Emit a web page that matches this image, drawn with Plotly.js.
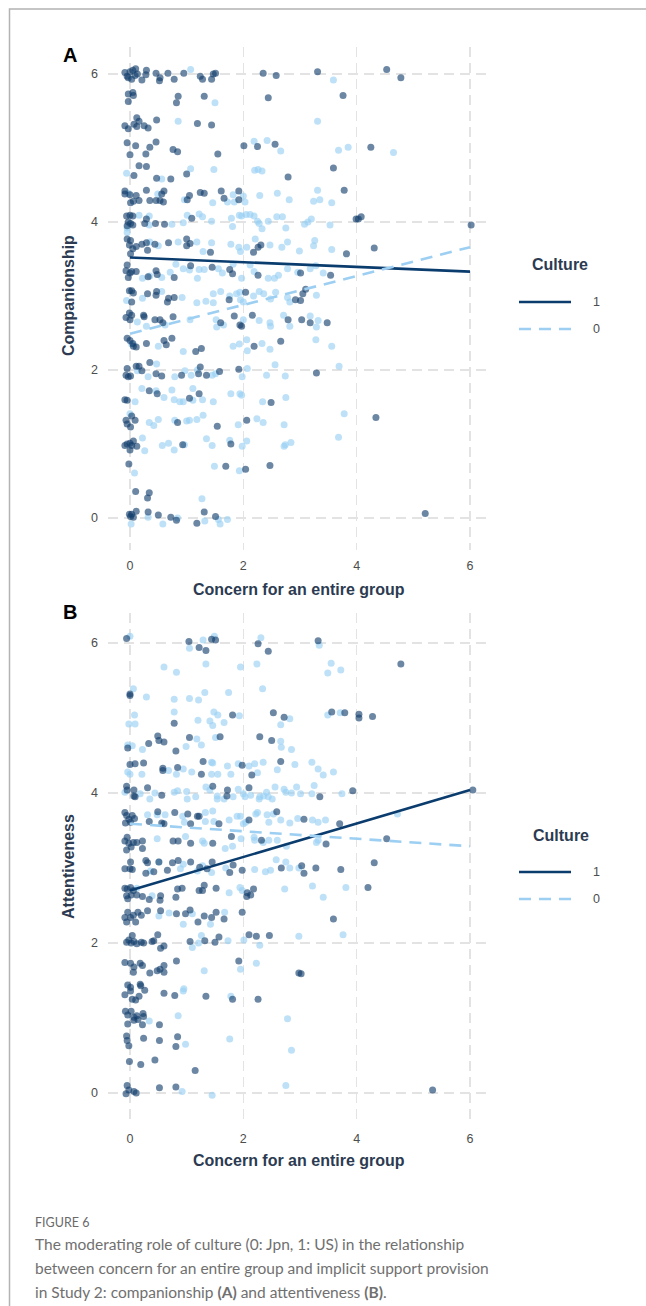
<!DOCTYPE html>
<html><head><meta charset="utf-8">
<script src="https://cdn.plot.ly/plotly-3.0.1.min.js"></script>
<style>html,body{margin:0;padding:0;background:#fff;} #chart{width:646px;height:1306px;}</style>
</head><body><div id="chart"></div>
<script>
// ---------- data ----------
const xTicks = [0, 2, 4, 6];
const yTicks = [0, 2, 4, 6];
const cultureLabels = ['1', '0'];

// Panel A: Companionship vs concern for an entire group, [x, y] (jittered as plotted)
const compUS = [
[-0.09,6.02],[-0.05,5.97],[0,6.03],[0.05,6.05],[0.09,5.98],[0.13,6.0],[0.21,5.92],[0.29,6.05],[0.28,5.99],[0.46,6.01],[0.53,5.95],[0.52,5.91],[0.67,6.01],[0.78,5.93],[0.95,6.01],[1.24,5.97],[1.28,5.93],[1.44,5.93],[1.47,6.0],[1.51,6.01],[2.35,6.01],[2.58,5.98],[3.31,6.03],[4.53,6.06],[4.78,5.95],[-0.03,5.95],[0.03,5.93],[0.1,6.07],
[-0.03,5.73],[0.05,5.75],[0.06,5.71],[-0.03,5.63],[0.85,5.7],[0.82,5.61],[1.31,5.7],[2.44,5.68],[3.76,5.71],
[-0.09,5.3],[-0.03,5.26],[0.12,5.41],[0.16,5.36],[0.07,5.32],[0.12,5.29],[0.25,5.3],[0.32,5.27],[0.47,5.38],[1.19,5.33],[1.44,5.31],
[-0.05,5.07],[0.1,5.03],[0,4.91],[0.28,4.92],[0.35,5.01],[0.46,5.08],[0.76,4.98],[0.84,4.95],[1.55,4.92],[2.01,5.03],[2.25,5.02],[2.56,5.05],[4.25,5.01],
[0.16,4.76],[0.29,4.75],[0.07,4.63],[0.47,4.59],[0.72,4.58],[1.0,4.65],[2.79,4.61],[3.59,4.73],
[-0.09,4.42],[-0.09,4.38],[0,4.37],[0.11,4.36],[0.16,4.29],[0.01,4.26],[0.06,4.28],[0.29,4.43],[0.35,4.29],[0.46,4.29],[0.53,4.29],[0.59,4.27],[0.6,4.42],[0.56,4.38],[1.01,4.3],[1.05,4.36],[1.24,4.4],[1.31,4.39],[1.61,4.42],[1.66,4.32],[1.92,4.42],[1.92,4.3],[3.78,4.43],
[-0.06,4.08],[0,4.09],[0.05,4.08],[-0.03,4.0],[0.01,3.98],[0.05,3.96],[-0.05,3.95],[0.29,4.04],[0.26,3.98],[0.45,3.98],[0.61,3.97],[1.09,4.05],[3.99,4.04],[4.03,4.04],[4.08,4.07],[6.02,3.96],
[-0.05,3.77],[0.01,3.75],[-0.01,3.69],[0.05,3.64],[0.01,3.57],[0.11,3.67],[0.21,3.7],[0.29,3.72],[0.31,3.62],[0.44,3.7],[0.68,3.72],[1.0,3.77],[1.0,3.68],[1.06,3.71],[1.42,3.59],[2.18,3.59],[2.26,3.66],[2.31,3.69],[3.82,3.57],[4.31,3.65],
[-0.05,3.42],[-0.07,3.34],[0,3.31],[-0.03,3.25],[0.03,3.33],[0.11,3.33],[0.32,3.26],[0.46,3.34],[0.48,3.29],[0.78,3.25],[1.07,3.41],[1.45,3.39],[1.76,3.36],[1.81,3.3],[2.26,3.28],[3.01,3.31],[3.54,3.28],
[-0.01,3.07],[0.03,3.07],[0.06,3.04],[0.03,2.92],[0.31,3.03],[0.46,3.01],[0.47,3.06],[0.68,2.97],[0.66,2.92],[0.78,2.98],[1.75,2.95],[2.04,3.05],[2.92,2.95],[3.01,2.94],[3.05,3.03],[3.1,3.09],
[-0.07,2.71],[0,2.68],[-0.01,2.77],[0.03,2.74],[0.24,2.74],[0.25,2.72],[0.44,2.68],[0.53,2.68],[0.58,2.64],[0.76,2.72],[1.6,2.64],[1.84,2.73],[1.94,2.61],[1.97,2.59],[2.16,2.74],[2.79,2.68],[3.03,2.68],[3.18,2.64],[3.48,2.64],
[-0.05,2.43],[0,2.4],[0.05,2.36],[0.06,2.32],[0.11,2.31],[0.29,2.36],[0.6,2.4],[0.64,2.34],[0.74,2.43],[1.16,2.25],[1.26,2.29],[2.19,2.32],[2.66,2.39],
[-0.07,1.93],[-0.03,1.91],[0.01,1.92],[-0.05,2.02],[0.11,2.05],[0.16,2.05],[0.21,1.99],[0.35,2.1],[0.46,1.95],[0.56,1.92],[0.91,1.93],[1.24,2.04],[1.21,1.95],[1.35,1.93],[1.58,1.98],[1.92,2.01],[3.29,1.96],
[-0.09,1.6],[-0.05,1.59],[0.34,1.72],[0.48,1.68],[1.05,1.62],[1.22,1.68],[2.49,1.56],
[-0.07,1.32],[0.03,1.38],[0.01,1.23],[-0.05,1.27],[0.09,1.32],[0.84,1.29],[1.54,1.24],[2.06,1.32],[4.34,1.36],
[-0.09,0.98],[-0.05,1.0],[0,1.01],[0.03,0.98],[0,0.92],[0.12,0.97],[0.06,1.04],[0.93,0.99],[1.78,1.0],
[-0.02,0.73],[1.69,0.7],[2.04,0.66],[2.47,0.71],
[0.1,0.36],[0.34,0.34],[0.31,0.27],
[-0.01,0.05],[0.03,0.05],[0.06,0.01],[0.11,0.09],[0.01,0.02],[0.32,0.08],[0.5,0.04],[0.72,0.01],[0.82,-0.03],[1.18,-0.07],[1.31,0.08],[1.51,0.02],[5.21,0.06]
];
const compJP = [
[1.07,6.06],[3.59,5.92],
[1.5,5.61],
[0.85,5.36],[3.31,5.36],
[2.19,5.09],[2.42,5.1],[2.66,4.96],[3.68,4.97],[3.85,5.01],[4.65,4.94],
[-0.06,4.66],[0.56,4.58],[1.07,4.72],[1.48,4.71],[2.2,4.7],[2.26,4.71],[2.33,4.69],
[-0.03,4.39],[0.49,4.38],[0.96,4.3],[1.46,4.26],[1.72,4.27],[1.82,4.37],[1.84,4.27],[2.03,4.27],[2.0,4.35],[2.29,4.36],[2.6,4.39],[2.81,4.3],[3.24,4.28],[3.31,4.43],[3.35,4.3],[3.56,4.26],
[-0.05,3.92],[0.16,4.09],[0.34,4.08],[0.34,3.96],[0.74,3.97],[0.94,3.99],[1.01,4.09],[1.22,4.11],[1.28,4.07],[1.44,4.01],[1.79,4.05],[1.81,3.94],[1.93,4.09],[1.97,4.08],[2.05,4.1],[2.12,4.1],[2.19,4.08],[2.25,4.01],[2.28,3.98],[2.33,3.91],[2.44,4.01],[2.59,4.07],[2.69,4.07],[2.75,3.92],[3.08,3.97],[3.2,4.04],[3.14,4.0],[3.53,3.96],
[-0.05,3.86],[0.35,3.73],[0.5,3.68],[0.85,3.73],[1.18,3.73],[1.29,3.6],[1.44,3.72],[1.78,3.7],[1.92,3.66],[1.95,3.6],[2.06,3.66],[2.21,3.77],[2.47,3.69],[2.68,3.66],[2.78,3.73],[2.99,3.61],[3.24,3.68],[3.26,3.75],[3.56,3.63],
[0.22,3.24],[0.35,3.27],[0.56,3.25],[0.71,3.32],[0.81,3.43],[0.94,3.37],[1.05,3.35],[1.19,3.24],[1.22,3.36],[1.31,3.36],[1.56,3.37],[1.63,3.31],[1.82,3.43],[1.97,3.24],[2.12,3.42],[2.19,3.33],[2.44,3.24],[2.55,3.24],[2.62,3.28],[2.78,3.37],[2.96,3.32],[3.18,3.37],[3.28,3.41],[3.41,3.31],
[-0.06,2.94],[0.22,2.97],[0.56,3.06],[0.92,2.98],[1.18,2.91],[1.34,2.93],[1.47,3.03],[1.47,2.91],[1.6,3.06],[1.76,3.0],[1.88,3.03],[1.94,3.05],[1.95,2.95],[2.0,2.92],[2.18,3.0],[2.28,3.06],[2.36,3.03],[2.48,2.96],[2.57,3.05],[2.78,2.98],[2.82,2.92],[3.29,3.01],
[0.13,2.65],[0.29,2.59],[0.62,2.61],[1.06,2.68],[1.52,2.68],[1.53,2.58],[1.65,2.61],[2.0,2.68],[2.28,2.67],[2.47,2.64],[2.48,2.59],[2.71,2.74],[2.82,2.59],[3.18,2.73],[3.32,2.67],[3.29,2.58],
[0.03,2.35],[0.5,2.32],[0.94,2.25],[1.82,2.32],[1.93,2.35],[2.06,2.41],[2.07,2.26],[2.33,2.36],[2.47,2.28],[3.28,2.41],[3.56,2.32],
[0.13,1.99],[0.32,1.91],[0.47,2.08],[0.79,1.91],[0.97,1.99],[1.08,1.93],[1.19,2.0],[1.45,1.93],[1.51,1.95],[1.98,1.91],[2.07,2.02],[2.41,1.93],[2.56,2.07],[2.74,1.92],[3.69,2.05],
[0.09,1.57],[0.21,1.75],[0.46,1.72],[0.6,1.63],[0.74,1.73],[0.78,1.6],[0.88,1.57],[0.94,1.57],[1.11,1.75],[1.11,1.59],[1.28,1.6],[1.47,1.57],[1.78,1.68],[1.94,1.68],[1.97,1.66],[2.34,1.57],[2.75,1.63],
[0,1.41],[0.34,1.29],[0.5,1.33],[0.79,1.32],[1.0,1.31],[1.05,1.32],[1.18,1.33],[1.29,1.39],[1.91,1.26],[2.24,1.34],[2.35,1.29],[2.72,1.26],[3.78,1.41],[0.42,1.25],
[0.22,1.08],[0.26,0.91],[0.57,0.98],[0.68,1.01],[0.78,0.92],[0.96,0.99],[1.35,1.07],[1.45,0.98],[1.76,1.05],[1.98,0.97],[2.06,1.04],[2.72,0.97],[2.74,0.99],[2.84,1.02],[3.68,1.09],
[0.08,0.61],[1.49,0.7],[1.93,0.64],
[1.27,0.26],
[0.02,-0.08],[0.32,0.01],[0.58,-0.08],[0.84,0.0],[1.32,-0.04],[1.56,-0.02],[1.59,-0.08],[1.72,-0.02]
];

// Panel B: Attentiveness vs concern for an entire group
const attUS = [
[-0.06,6.06],[1.04,6.02],[1.22,5.94],[1.34,5.9],[1.44,6.05],[1.51,6.04],[2.26,5.99],[2.44,5.89],[3.32,6.03],
[4.78,5.72],
[0,5.32],[0,5.3],
[0.78,4.93],[1.81,5.04],[2.53,5.07],[2.72,5.01],[3.56,5.08],[3.79,5.07],[4.04,5.05],[4.04,5.0],[4.28,5.02],
[-0.04,4.6],[0.33,4.66],[0.49,4.76],[0.51,4.7],[0.6,4.68],[0.81,4.56],[1.05,4.74],[1.59,4.75],[2.29,4.75],[2.5,4.7],
[0,4.38],[0.09,4.39],[0.24,4.4],[0.58,4.33],[0.58,4.3],[0.84,4.34],[1.29,4.42],[1.26,4.25],[1.98,4.37],[2.15,4.24],[2.66,4.42],
[-0.06,4.09],[-0.05,4.04],[0.07,4.04],[0.09,3.95],[0.31,4.07],[0.56,3.97],[1.46,4.09],[1.72,4.04],[2.1,4.07],[3.35,3.95],[3.93,4.03],[6.05,4.04],[0.07,3.96],[1.71,3.96],
[-0.09,3.74],[-0.06,3.7],[-0.02,3.65],[0.01,3.61],[0.04,3.7],[0.08,3.66],[-0.08,3.6],[0.34,3.62],[0.49,3.75],[0.56,3.6],[0.6,3.59],[0.79,3.74],[1.02,3.72],[1.19,3.69],[1.22,3.69],[1.07,3.59],[1.57,3.59],[2.1,3.64],[2.59,3.75],[3.07,3.65],[3.7,3.59],
[-0.09,3.36],[-0.05,3.41],[-0.02,3.33],[0.02,3.28],[0.06,3.34],[0.12,3.34],[0.22,3.36],[0.22,3.26],[-0.06,3.24],[0.76,3.36],[0.85,3.36],[1.07,3.33],[1.46,3.33],[1.79,3.42],[2.32,3.37],[3.46,3.32],[4.53,3.39],
[0.01,3.08],[-0.09,2.99],[0,2.99],[0.04,2.98],[0.28,3.1],[0.31,3.07],[0.28,2.93],[0.42,2.95],[0.51,3.08],[0.66,2.97],[0.75,3.07],[0.85,3.1],[1.07,3.08],[1.23,3.01],[1.36,2.99],[1.45,3.08],[1.76,2.94],[1.82,3.04],[1.98,2.97],[2.67,3.0],[3.03,3.03],[3.07,2.93],[3.28,3.0],[3.72,2.98],[4.31,3.07],
[-0.09,2.73],[-0.05,2.72],[0.01,2.74],[0.06,2.7],[-0.06,2.63],[0.02,2.64],[-0.04,2.59],[0.12,2.64],[0.22,2.62],[0.34,2.58],[0.54,2.63],[0.53,2.57],[0.81,2.61],[0.84,2.72],[0.92,2.73],[1.22,2.7],[1.28,2.7],[1.31,2.77],[1.52,2.73],[2.07,2.67],[2.06,2.62],[2.13,2.64],[2.18,2.72],[4.2,2.74],
[-0.09,2.34],[-0.06,2.28],[-0.04,2.41],[0.01,2.34],[0.06,2.37],[0.1,2.28],[0.14,2.41],[0.2,2.37],[0.31,2.43],[0.54,2.43],[0.82,2.39],[0.98,2.39],[1.06,2.44],[1.2,2.28],[1.31,2.36],[1.44,2.34],[1.52,2.41],[1.66,2.32],[1.98,2.41],[3.59,2.32],
[-0.06,2.01],[-0.02,2.04],[0.04,2.1],[0.02,2.0],[0.07,2.02],[0.12,1.99],[0.2,2.01],[0.24,2.0],[0.39,2.02],[0.42,2.03],[0.49,2.11],[0.54,1.93],[0.6,1.96],[1.06,2.02],[1.32,2.03],[1.5,2.01],[1.57,2.08],[2.1,2.11],[2.23,2.09],[2.46,2.1],
[-0.09,1.74],[0.01,1.73],[0.07,1.68],[0.06,1.61],[0.18,1.73],[0.22,1.7],[0.35,1.6],[0.48,1.63],[0.53,1.65],[0.6,1.61],[0.6,1.7],[0.82,1.76],[1.92,1.76],[2.98,1.6],[3.02,1.59],
[-0.04,1.44],[0.01,1.41],[0.18,1.45],[-0.09,1.31],[0.01,1.36],[0.04,1.25],[0.1,1.24],[0.16,1.29],[0.19,1.43],[0.26,1.37],[0.6,1.33],[0.79,1.3],[1.34,1.29],[1.81,1.25],[2.26,1.25],
[-0.08,1.09],[-0.04,1.04],[0.02,1.09],[0.07,1.01],[0.12,1.03],[0.07,0.97],[0.14,0.98],[0.23,1.06],[0.24,1.02],[-0.04,0.92],[0.22,0.91],[0.52,0.91],
[-0.06,0.76],[-0.05,0.7],[-0.02,0.63],[0.24,0.73],[0.52,0.7],[0.84,0.75],[0.81,0.62],
[-0.01,0.42],[0.19,0.38],[0.44,0.44],[1.15,0.3],
[-0.05,0.1],[-0.02,0.04],[-0.07,-0.01],[0.07,0.02],[0.11,0.0],[0.52,0.07],[0.81,0.08],[5.34,0.04]
];
const attJP = [
[0,6.09],[1.05,5.93],[1.29,6.04],[1.49,6.09],[2.31,6.07],[3.34,5.97],
[0.6,5.68],[0.82,5.61],[1.34,5.72],[1.95,5.68],[2.24,5.72],[3.49,5.6],[3.55,5.73],[3.72,5.64],
[0.06,5.39],[0.29,5.28],[0.78,5.25],[1.05,5.26],[1.21,5.24],[1.32,5.34],[1.74,5.34],[2.34,5.39],
[0.08,5.04],[-0.02,4.92],[0.09,4.92],[0.78,5.08],[1.2,4.97],[1.41,4.96],[1.48,5.08],[1.55,5.04],[1.66,4.94],[1.46,4.9],[1.93,5.03],[2.82,4.99],[2.66,4.91],[3.49,5.04],[3.71,5.07],
[-0.04,4.64],[0.04,4.63],[0.22,4.58],[0.99,4.62],[1.18,4.72],[1.26,4.64],[1.51,4.74],[2.66,4.69],[2.67,4.61],[2.85,4.58],
[-0.04,4.28],[0,4.25],[0.21,4.25],[0.68,4.3],[0.82,4.25],[0.94,4.32],[1.09,4.28],[1.44,4.41],[1.46,4.4],[1.44,4.25],[1.55,4.25],[1.72,4.36],[1.78,4.25],[1.91,4.39],[2.1,4.36],[2.2,4.39],[2.25,4.27],[2.35,4.41],[2.6,4.31],[2.91,4.38],[3.21,4.41],[3.32,4.32],[3.41,4.24],[3.59,4.28],
[-0.09,4.01],[0.18,3.99],[0.35,3.92],[0.44,4.0],[0.78,4.01],[0.84,4.03],[1.0,4.02],[1.01,3.92],[1.16,3.95],[1.34,4.08],[1.41,4.04],[1.54,3.96],[1.66,3.92],[1.82,3.95],[1.91,4.05],[2.0,3.99],[2.03,3.95],[2.29,3.95],[2.41,4.01],[2.44,3.95],[2.56,4.08],[2.72,4.05],[2.75,4.01],[2.85,4.0],[2.94,4.08],[3.01,3.99],[3.21,3.99],[3.25,4.1],[3.74,3.99],[1.54,3.92],[2.13,3.97],[2.28,3.92],[2.36,3.96],[2.51,3.92],
[0.31,3.71],[0.48,3.71],[0.62,3.71],[0.93,3.69],[0.96,3.61],[1.33,3.74],[1.33,3.62],[1.46,3.76],[1.48,3.62],[1.75,3.64],[1.89,3.69],[1.95,3.69],[2.0,3.59],[2.04,3.61],[2.22,3.72],[2.25,3.74],[2.42,3.71],[2.45,3.61],[2.53,3.72],[2.66,3.64],[2.82,3.6],[2.96,3.66],[3.22,3.64],[3.32,3.61],[3.45,3.64],[4.72,3.72],
[0.48,3.39],[0.98,3.42],[1.28,3.36],[1.31,3.33],[1.68,3.26],[1.81,3.29],[1.96,3.39],[2.19,3.41],[2.2,3.37],[2.35,3.34],[2.45,3.37],[2.6,3.37],[2.76,3.29],[3.29,3.34],[3.32,3.37],
[0.36,2.96],[0.51,3.08],[0.89,2.99],[0.94,3.05],[1.19,2.96],[1.28,3.03],[1.44,2.94],[1.69,3.0],[2.2,2.98],[2.39,2.95],[2.48,2.97],[2.58,3.11],[2.75,3.08],[2.82,3.0],[2.98,3.0],
[0.12,2.73],[0.39,2.63],[1.75,2.67],[1.94,2.74],[1.98,2.7],[2.73,2.72],[3.22,2.76],[3.41,2.61],[3.81,2.74],
[0.51,2.36],[0.69,2.4],[0.94,2.25],[1.1,2.39],[1.42,2.25],[1.67,2.41],
[1.1,1.94],[1.21,2.0],[1.26,2.1],[1.73,2.03],[2.01,2.04],[2.29,1.97],[2.98,2.09],[3.76,2.11],
[1.31,1.63],[1.95,1.65],[2.23,1.73],
[0.95,1.39],[0.94,1.36],[1.78,1.29],
[0.34,0.96],[0.85,1.03],[2.78,0.99],
[0.98,0.65],[1.76,0.72],[2.85,0.57],
[0.92,0.02],[1.45,-0.03],[2.75,0.1]
];

// Fitted regression lines (endpoints)
const fitX = [0, 6];
const compFitUS = [3.52, 3.33];
const compFitJP = [2.49, 3.66];
const attFitUS = [2.70, 4.04];
const attFitJP = [3.59, 3.29];

// ---------- styling ----------
const W = 646, H = 1306;
const px = v => v / W;
const py = v => 1 - v / H;
const US_COL = '#0b3c6e';
const JP_COL = '#9dcff2';
const US_PT = 'rgba(18,62,108,0.62)';
const JP_PT = 'rgba(150,206,244,0.62)';
const TITLE_COL = '#2c3b51';
const TICK_COL = '#4d4d4d';
const FONT = 'Liberation Sans, Arial, sans-serif';

function pts(arr, col, xa, ya) {
  return {type:'scatter', mode:'markers', x:arr.map(d=>d[0]), y:arr.map(d=>d[1]),
    xaxis:xa, yaxis:ya, marker:{size:7, color:col, line:{width:0}}, hoverinfo:'skip', showlegend:false};
}
function fit(ys, col, dash, xa, ya) {
  return {type:'scatter', mode:'lines', x:fitX, y:ys, xaxis:xa, yaxis:ya,
    line:{color:col, width:2.6, dash:dash}, hoverinfo:'skip', showlegend:false};
}

const data = [
  pts(compJP, JP_PT, 'x', 'y'), pts(compUS, US_PT, 'x', 'y'),
  fit(compFitUS, US_COL, 'solid', 'x', 'y'), fit(compFitJP, JP_COL, '12px,8px', 'x', 'y'),
  pts(attJP, JP_PT, 'x2', 'y2'), pts(attUS, US_PT, 'x2', 'y2'),
  fit(attFitUS, US_COL, 'solid', 'x2', 'y2'), fit(attFitJP, JP_COL, '12px,8px', 'x2', 'y2')
];

const axBase = {showgrid:true, gridcolor:'#e3e3e3', gridwidth:1.4, griddash:'10px,6px',
  zeroline:false, showline:false, ticks:'', tickfont:{family:FONT, size:12.5, color:TICK_COL}, fixedrange:true};

const xDom = [px(108), px(490)];
const layout = {
  width:W, height:H, margin:{l:0,r:0,t:0,b:0}, paper_bgcolor:'#fff', plot_bgcolor:'#fff',
  showlegend:false, font:{family:FONT},
  xaxis: Object.assign({}, axBase, {domain:xDom, range:[-0.388, 6.353], tickvals:xTicks, anchor:'y', ticklabelstandoff:6}),
  yaxis: Object.assign({}, axBase, {domain:[py(550), py(47)], range:[-0.432, 6.365], tickvals:yTicks, anchor:'x', ticklabelstandoff:9}),
  xaxis2: Object.assign({}, axBase, {domain:xDom, range:[-0.388, 6.353], tickvals:xTicks, anchor:'y2', ticklabelstandoff:6}),
  yaxis2: Object.assign({}, axBase, {domain:[py(1123), py(613)], range:[-0.4, 6.4], tickvals:yTicks, anchor:'x2', ticklabelstandoff:9}),
  shapes: [],
  annotations: []
};

// frame around the figure
layout.shapes.push({type:'rect', xref:'paper', yref:'paper', x0:px(9.5), x1:1.05, y0:-0.05, y1:py(9),
  line:{color:'#b3b3b3', width:1.5}, fillcolor:'rgba(0,0,0,0)', layer:'below'});

const ann = (x, y, text, opts) => Object.assign({xref:'paper', yref:'paper', x:px(x), y:py(y), text:text,
  showarrow:false, xanchor:'center', yanchor:'middle'}, opts || {});

// panel labels and axis titles
const titleFont = {family:FONT, size:16, color:TITLE_COL};
layout.annotations.push(ann(70, 55, '<b>A</b>', {font:{family:FONT, size:20, color:'#000'}}));
layout.annotations.push(ann(70, 612, '<b>B</b>', {font:{family:FONT, size:20, color:'#000'}}));
layout.annotations.push(ann(299, 590, '<b>Concern for an entire group</b>', {font:titleFont}));
layout.annotations.push(ann(299, 1160, '<b>Concern for an entire group</b>', {font:titleFont}));
layout.annotations.push(ann(68, 296, '<b>Companionship</b>', {font:titleFont, textangle:-90}));
layout.annotations.push(ann(68, 867, '<b>Attentiveness</b>', {font:titleFont, textangle:-90}));

// legends
function legend(cx, titleY, y1, y0) {
  layout.annotations.push(ann(cx, titleY, '<b>Culture</b>', {font:titleFont}));
  layout.shapes.push({type:'line', xref:'paper', yref:'paper', x0:px(519), x1:px(571), y0:py(y1), y1:py(y1), line:{color:US_COL, width:2.6}});
  layout.shapes.push({type:'line', xref:'paper', yref:'paper', x0:px(519), x1:px(571), y0:py(y0), y1:py(y0), line:{color:JP_COL, width:2.6, dash:'12px,8px'}});
  layout.annotations.push(ann(596, y1, cultureLabels[0], {font:{family:FONT, size:12.5, color:TICK_COL}}));
  layout.annotations.push(ann(596, y0, cultureLabels[1], {font:{family:FONT, size:12.5, color:TICK_COL}}));
}
legend(560, 265, 302, 329);
legend(561, 835, 872, 899);

// caption
const capFont = {family:'Lato, Open Sans, sans-serif', size:15.5, color:'#707070'};
layout.annotations.push(ann(33, 1222, 'FIGURE 6', {xanchor:'left', font:{family:'Lato, Open Sans, sans-serif', size:12.5, color:'#6a6a6a'}}));
layout.annotations.push(ann(33, 1244, 'The moderating role of culture (0: Jpn, 1: US) in the relationship', {xanchor:'left', font:capFont}));
layout.annotations.push(ann(33, 1268, 'between concern for an entire group and implicit support provision', {xanchor:'left', font:capFont}));
layout.annotations.push(ann(33, 1292, 'in Study 2: companionship <b>(A)</b> and attentiveness <b>(B)</b>.', {xanchor:'left', font:capFont}));

Plotly.newPlot('chart', data, layout, {staticPlot:true, displayModeBar:false});
</script>
</body></html>
